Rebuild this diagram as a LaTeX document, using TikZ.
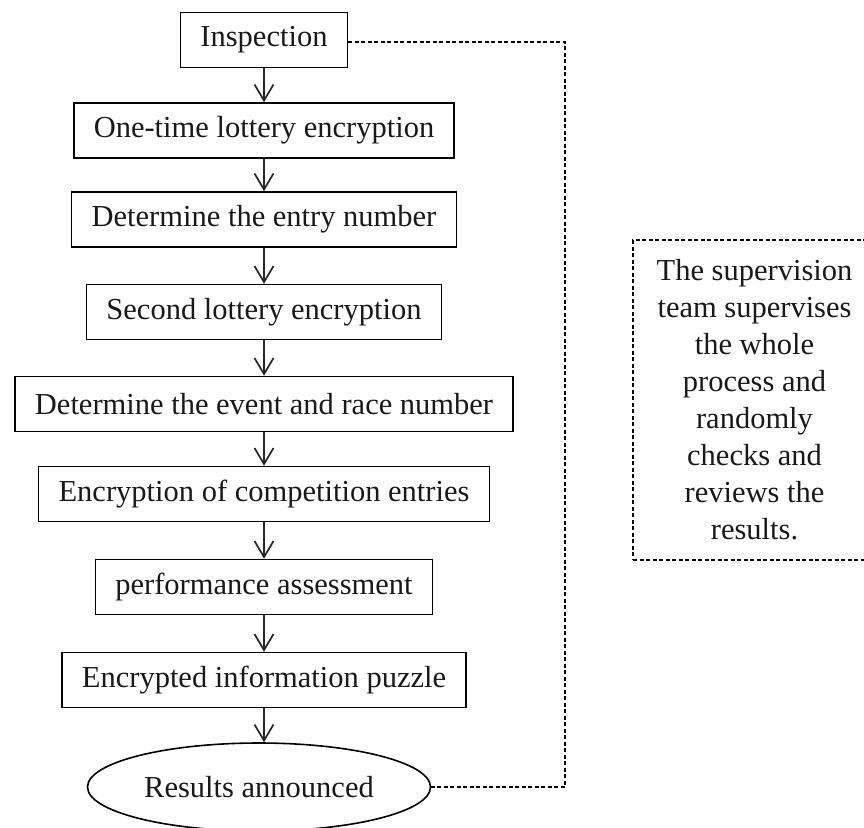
\documentclass[tikz,border=0pt]{standalone}
\usepackage{fontspec}
\setmainfont{Liberation Serif}
\usetikzlibrary{arrows.meta,shapes.geometric}
\begin{document}
\begin{tikzpicture}[x=1pt,y=-1pt,
  every node/.style={font=\fontsize{30.5}{37}\selectfont, text=black!90},
  stepbox/.style={draw, line width=1.6pt, rectangle, inner xsep=20pt, inner ysep=0pt, minimum height=55pt},
  resbox/.style={draw, line width=1.6pt, ellipse, minimum width=343pt, minimum height=88pt, inner sep=0pt},
  note/.style={draw, line width=1.2pt, dash pattern=on 4pt off 2.5pt, minimum width=243pt, minimum height=320pt, align=center, inner sep=0pt},
  flow/.style={draw=black!85, line width=1.7pt, -{Straight Barb[length=16pt,width=19pt,line width=1.7pt]}},
  link/.style={line width=1.2pt, dash pattern=on 4pt off 2.5pt}]
\clip (0,0) rectangle (864,827);
\fill[white] (0,0) rectangle (864,827);

\node[stepbox] (insp) at (264,40)  {Inspection};
\node[stepbox] (one)  at (264,130.5) {One-time lottery encryption};
\node[stepbox] (entry) at (264,219.5) {Determine the entry number};
\node[stepbox] (second) at (264,312) {Second lottery encryption};
\node[stepbox] (event) at (264,404) {Determine the event and race number};
\node[stepbox] (encr) at (264,494) {Encryption of competition entries};
\node[stepbox] (perf) at (264,587) {performance assessment};
\node[stepbox] (puzzle) at (264,680) {Encrypted information puzzle};
\node[resbox] (res) at (259,787) {Results announced};

\node[note] (super) at (754.5,400) {The supervision\\team supervises\\the whole\\process and\\randomly\\checks and\\reviews the\\results.};

\draw[flow] (insp.south) -- (one.north);
\draw[flow] (one.south) -- (entry.north);
\draw[flow] (entry.south) -- (second.north);
\draw[flow] (second.south) -- (event.north);
\draw[flow] (event.south) -- (encr.north);
\draw[flow] (encr.south) -- (perf.north);
\draw[flow] (perf.south) -- (puzzle.north);
\draw[flow] (puzzle.south) -- (res.north -| puzzle.south);

\coordinate (corner) at (565,42);
\draw[link] (insp.east |- corner) -- (corner) |- (res.east);
\end{tikzpicture}
\end{document}
